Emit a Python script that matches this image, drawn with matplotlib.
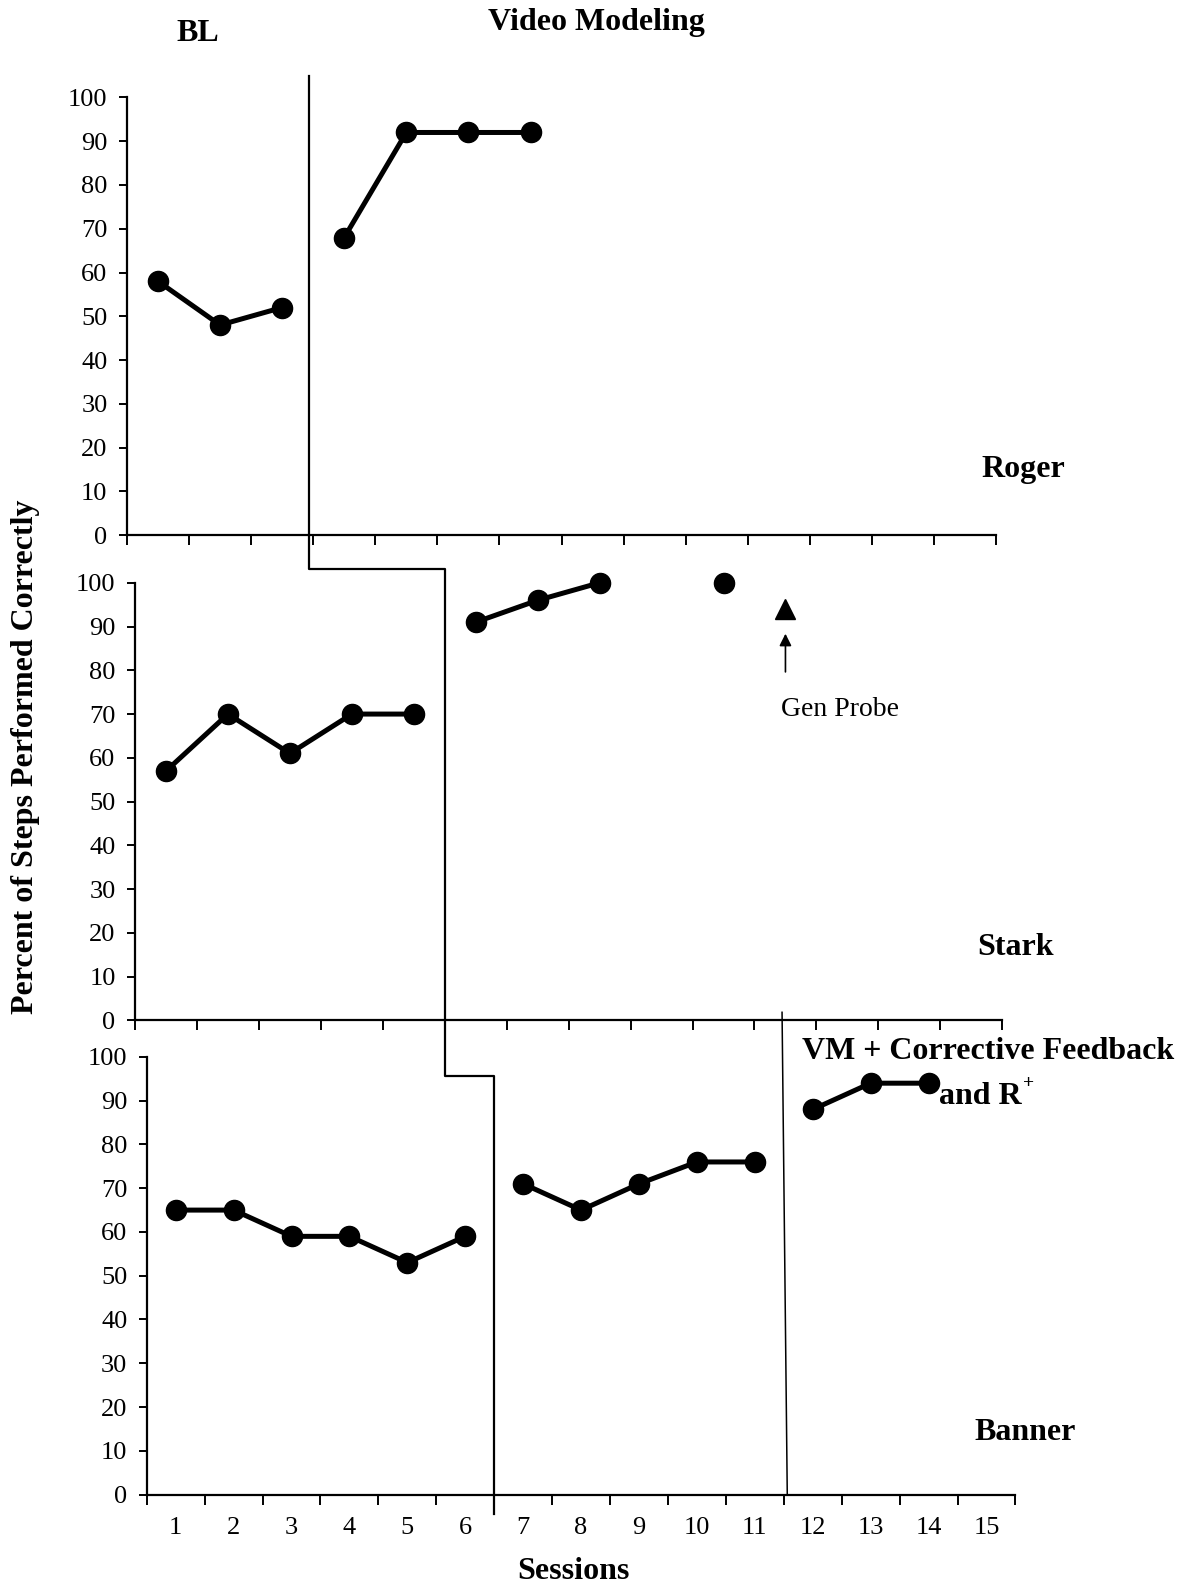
import numpy as np
import matplotlib
matplotlib.use("Agg")
import matplotlib.pyplot as plt
from matplotlib.lines import Line2D

plt.rcParams['font.family'] = ['Liberation Serif', 'DejaVu Serif']

# data
roger_sessions = [1, 2, 3, 4, 5, 6, 7]
roger_values = [58, 48, 52, 68, 92, 92, 92]
roger_segments = [(0, 3), (3, 7)]

stark_sessions = [1, 2, 3, 4, 5, 6, 7, 8, 10]
stark_values = [57, 70, 61, 70, 70, 91, 96, 100, 100]
stark_segments = [(0, 5), (5, 8), (8, 9)]
gen_probe_session = 11
gen_probe_value = 94

banner_sessions = [1, 2, 3, 4, 5, 6, 7, 8, 9, 10, 11, 12, 13, 14]
banner_values = [65, 65, 59, 59, 53, 59, 71, 65, 71, 76, 76, 88, 94, 94]
banner_segments = [(0, 6), (6, 11), (11, 14)]

yticks = list(range(0, 101, 10))
session_labels = [str(i) for i in range(1, 16)]

W, H = 1165.0, 1568.0  # layout measured on the reference


def fx(px):
    return px / W


def fy(py):
    return 1 - py / H


fig = plt.figure(figsize=(11.83, 15.92), dpi=100)


def make_ax(left, right, top, bottom, n):
    ax = fig.add_axes([fx(left), fy(bottom), fx(right) - fx(left), fy(top) - fy(bottom)])
    ax.set_xlim(0.5, n + 0.5)
    ax.set_ylim(0, 100)
    for s in ['top', 'right']:
        ax.spines[s].set_visible(False)
    for s in ['left', 'bottom']:
        ax.spines[s].set_linewidth(1.6)
    ax.set_yticks(yticks)
    ax.tick_params(axis='y', direction='out', length=6, width=1.4, labelsize=19, pad=8)
    ax.set_xticks(np.arange(0.5, n + 1.0, 1.0), minor=True)
    ax.set_xticks([])
    ax.tick_params(axis='x', which='minor', direction='out', length=7, width=1.4)
    return ax


ax1 = make_ax(125, 981, 96, 527, 14)
ax2 = make_ax(133, 987, 574, 1005, 14)
ax3 = make_ax(144.5, 1000, 1041, 1472, 15)

ax3.set_xticks(range(1, 16))
ax3.set_xticklabels(session_labels)
ax3.tick_params(axis='x', which='major', length=0, labelsize=19, pad=16)


def plot_series(ax, xs, ys, segs):
    for a, b in segs:
        ax.plot(xs[a:b], ys[a:b], color='black', lw=3.6, marker='o',
                markersize=14.5, clip_on=False, zorder=3)


plot_series(ax1, roger_sessions, roger_values, roger_segments)
plot_series(ax2, stark_sessions, stark_values, stark_segments)
plot_series(ax3, banner_sessions, banner_values, banner_segments)

ax2.plot([gen_probe_session], [gen_probe_value], marker='^', color='black',
         markersize=15, linestyle='none', clip_on=False)
ax2.annotate('', xy=(gen_probe_session, 89), xytext=(gen_probe_session, 79),
             arrowprops=dict(arrowstyle='-|>', color='black', lw=1.2, mutation_scale=18))
ax2.text(gen_probe_session + 0.88, 71, 'Gen Probe', fontsize=20, ha='center', va='center')

# phase change lines drawn across panels in figure coords
inv = fig.transFigure.inverted()


def to_fig(ax, x, y):
    return inv.transform(ax.transData.transform((x, y)))


p1 = to_fig(ax1, 3.43, 104.9)
p2y = to_fig(ax2, 5.5, 103.2)
p3 = to_fig(ax2, 5.5, 103.2)
p4y = to_fig(ax3, 6.5, 95.6)
p5 = to_fig(ax3, 6.5, 95.6)
p6 = to_fig(ax3, 6.5, -4.5)
xs = [p1[0], p1[0], p3[0], p3[0], p5[0], p5[0]]
ys = [p1[1], p2y[1], p3[1], p4y[1], p5[1], p6[1]]
fig.add_artist(Line2D(xs, ys, color='black', lw=1.6, transform=fig.transFigure))

q1 = to_fig(ax3, 11.47, 110.2)
q2 = to_fig(ax3, 11.56, 0)
fig.add_artist(Line2D([q1[0], q2[0]], [q1[1], q2[1]], color='black', lw=1.1,
                      transform=fig.transFigure))

# labels
bold = dict(fontweight='bold', ha='center', va='center')
fig.text(fx(195), fy(33), 'BL', fontsize=23, **bold)
fig.text(fx(587), fy(22), 'Video Modeling', fontsize=23, **bold)
fig.text(fx(1008), fy(462), 'Roger', fontsize=23, **bold)
fig.text(fx(1000), fy(933), 'Stark', fontsize=23, **bold)
fig.text(fx(1010), fy(1411), 'Banner', fontsize=23, **bold)
fig.text(fx(565), fy(1548), 'Sessions', fontsize=23, **bold)
fig.text(fx(25), fy(745), 'Percent of Steps Performed Correctly', fontsize=23,
         rotation=90, **bold)
fig.text(fx(790), fy(1036), 'VM + Corrective Feedback', fontsize=23,
         fontweight='bold', ha='left', va='center')
fig.text(fx(925), fy(1080), 'and R', fontsize=23, fontweight='bold', ha='left', va='center')
fig.text(fx(1007), fy(1067), '+', fontsize=14, fontweight='bold', ha='left', va='center')

fig.savefig('out.png', dpi=100)
